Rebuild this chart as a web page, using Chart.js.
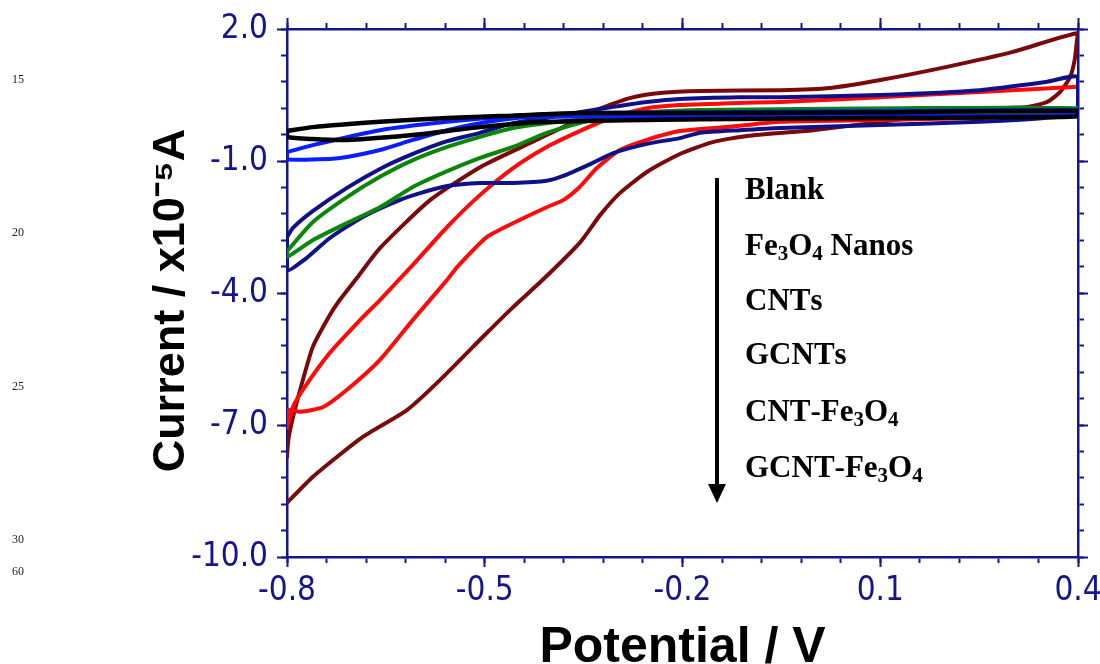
<!DOCTYPE html>
<html><head><meta charset="utf-8">
<script src="https://cdn.jsdelivr.net/npm/chart.js@4.4.1/dist/chart.umd.min.js"></script>
<style>html,body{margin:0;padding:0;background:#fff}canvas{display:block}</style>
</head><body>
<canvas id="c" width="1100" height="664"></canvas>
<script>
// ---- data (potential V, current x1e-5 A) ----
const seriesNames = ['Blank','Fe₃O₄ Nanos','CNTs','GCNTs','CNT-Fe₃O₄','GCNT-Fe₃O₄'];
const lineNumbers = ['15','20','25','30','60'];
const xTickValues = [-0.8,-0.5,-0.2,0.1,0.4];
const yTickValues = [2.0,-1.0,-4.0,-7.0,-10.0];

const blankV = [-0.8,-0.761,-0.659,-0.557,-0.477,-0.356,-0.173,0.13,0.4, 0.4,0.357,0.13,-0.173,-0.406,-0.507,-0.609,-0.709,-0.761,-0.8,-0.8];
const blankI = [-0.32,-0.23,-0.11,-0.02,0.02,0.09,0.09,0.11,0.14, 0.02,0.0,-0.02,-0.05,-0.11,-0.23,-0.41,-0.52,-0.50,-0.45,-0.32];

const feV = [-0.8,-0.761,-0.659,-0.557,-0.457,-0.356,-0.173,0.13,0.4, 0.4,0.13,-0.173,-0.431,-0.507,-0.557,-0.609,-0.659,-0.709,-0.735,-0.8,-0.8];
const feI = [-0.80,-0.64,-0.30,-0.11,0.02,0.09,0.11,0.14,0.16, 0.05,0.02,0.02,0.0,-0.14,-0.30,-0.52,-0.75,-0.91,-0.955,-0.96,-0.80];

const cntV = [-0.8,-0.761,-0.709,-0.659,-0.609,-0.557,-0.507,-0.457,-0.406,-0.356,-0.173,0.13,0.4, 0.4,0.13,-0.173,-0.254,-0.305,-0.356,-0.406,-0.457,-0.507,-0.557,-0.609,-0.659,-0.709,-0.761,-0.8,-0.8];
const cntI = [-3.05,-2.39,-1.82,-1.36,-0.98,-0.68,-0.45,-0.25,-0.14,-0.07,0.02,0.07,0.09, 0.2,0.2,0.16,0.11,0.05,-0.14,-0.36,-0.68,-0.93,-1.23,-1.59,-2.05,-2.41,-2.80,-3.18,-3.05];

const gcntV = [-0.8,-0.791,-0.761,-0.709,-0.659,-0.609,-0.557,-0.507,-0.457,-0.406,-0.356,-0.305,-0.254,-0.204,-0.113,-0.052,0.1,0.251,0.353,0.4, 0.4,0.353,0.251,0.1,-0.052,-0.113,-0.173,-0.204,-0.254,-0.305,-0.34,-0.381,-0.406,-0.457,-0.507,-0.557,-0.598,-0.633,-0.685,-0.735,-0.770,-0.8,-0.8];
const gcntI = [-2.73,-2.52,-2.14,-1.61,-1.18,-0.84,-0.55,-0.36,-0.14,-0.02,0.11,0.23,0.34,0.41,0.45,0.45,0.5,0.61,0.8,0.91, 0.11,-0.02,-0.11,-0.18,-0.25,-0.30,-0.36,-0.48,-0.61,-0.82,-1.07,-1.34,-1.45,-1.5,-1.5,-1.57,-1.73,-1.91,-2.27,-2.75,-3.2,-3.48,-2.73];

const cntFeV = [-0.8,-0.791,-0.776,-0.735,-0.685,-0.659,-0.609,-0.557,-0.507,-0.457,-0.406,-0.356,-0.305,-0.254,-0.204,-0.113,-0.052,0.1,0.251,0.392,0.4, 0.4,0.251,0.1,-0.052,-0.113,-0.204,-0.254,-0.295,-0.33,-0.356,-0.381,-0.406,-0.447,-0.497,-0.542,-0.557,-0.609,-0.659,-0.709,-0.745,-0.78,-0.8,-0.8];
const cntFeI = [-7.07,-6.59,-6.2,-5.36,-4.55,-4.16,-3.36,-2.5,-1.77,-1.16,-0.68,-0.32,0.0,0.2,0.27,0.32,0.34,0.45,0.57,0.68,0.68, 0.09,-0.02,-0.07,-0.11,-0.2,-0.32,-0.52,-0.75,-1.16,-1.59,-1.89,-2.05,-2.34,-2.73,-3.41,-3.70,-4.61,-5.52,-6.2,-6.59,-6.7,-6.66,-7.07];

const gcntFeV = [-0.8,-0.761,-0.685,-0.618,-0.568,-0.497,-0.457,-0.412,-0.356,-0.325,-0.295,-0.254,-0.204,-0.154,-0.102,-0.002,0.15,0.277,0.323,0.353,0.373,0.388,0.395,0.398,0.4, 0.301,0.201,0.1,0.024,-0.052,-0.173,-0.23,-0.28,-0.33,-0.381,-0.431,-0.507,-0.583,-0.659,-0.694,-0.72,-0.735,-0.761,-0.78,-0.792,-0.798,-0.8];
const gcntFeI = [-8.77,-8.18,-7.27,-6.66,-5.98,-4.91,-4.32,-3.70,-2.86,-2.23,-1.73,-1.25,-0.84,-0.57,-0.43,-0.30,-0.02,0.2,0.23,0.34,0.57,0.91,1.30,1.68,1.91, 1.48,1.14,0.84,0.66,0.61,0.59,0.55,0.43,0.16,-0.23,-0.59,-1.14,-1.89,-2.98,-3.66,-4.16,-4.5,-5.23,-6.2,-6.89,-7.34,-7.73];

// ---- build ----
const pts = (v, i) => v.map((x, k) => ({x: x, y: i[k]}));
const navy = '#15158c';
const colors = ['#000000','#0a1eff','#0a870a','#101088','#ff0a0a','#7a0a0a'];
const seriesData = [pts(blankV,blankI), pts(feV,feI), pts(cntV,cntI), pts(gcntV,gcntI), pts(cntFeV,cntFeI), pts(gcntFeV,gcntFeI)];

const near = (v, list) => list.some(t => Math.abs(v - t) < 1e-6);
const tickFont = {family:'"Liberation Sans Narrow","Arial Narrow","DejaVu Sans Condensed",sans-serif', size:33, lineHeight:1};
const titleFamily = '"Liberation Sans",Arial,sans-serif';

function minorAxis(axis, position, min, max, step, len, extra) {
  return Object.assign({
    type:'linear', axis, position, min, max,
    ticks:{display:false, stepSize:step, autoSkip:false},
    grid:{drawOnChartArea:false, drawTicks:true, tickLength:len, tickWidth:2, tickColor:navy},
    border:{display:false}
  }, extra || {});
}

const annot = {
  id:'annot',
  afterDraw(chart) {
    const ctx = chart.ctx;
    ctx.save();
    // arrow
    ctx.strokeStyle = '#000'; ctx.fillStyle = '#000'; ctx.lineWidth = 4;
    ctx.beginPath(); ctx.moveTo(717,178); ctx.lineTo(717,488); ctx.stroke();
    ctx.beginPath(); ctx.moveTo(708,484); ctx.lineTo(726,484); ctx.lineTo(717,503); ctx.closePath(); ctx.fill();
    // list of samples
    const bases = [199,255,310,364,421,477];
    const subMap = {'₃':'3','₄':'4'};
    ctx.textBaseline = 'alphabetic'; ctx.textAlign = 'left';
    seriesNames.forEach((name, k) => {
      let x = 745;
      for (const ch of name) {
        const sub = subMap[ch];
        ctx.font = sub ? 'bold 21px "Liberation Serif","Times New Roman",serif' : 'bold 31px "Liberation Serif","Times New Roman",serif';
        const t = sub || ch;
        ctx.fillText(t, x, bases[k] + (sub ? 5 : 0));
        x += ctx.measureText(t).width;
      }
    });
    // manuscript line numbers
    ctx.font = '12px "Liberation Serif","Times New Roman",serif';
    ctx.fillStyle = '#222'; ctx.textAlign = 'center'; ctx.textBaseline = 'middle';
    const ly = [80,233,387,540,572];
    lineNumbers.forEach((t, k) => ctx.fillText(t, 18, ly[k]));
    ctx.restore();
  }
};

new Chart(document.getElementById('c'), {
  type:'scatter',
  data:{
    datasets: seriesData.map((d, k) => ({
      label: seriesNames[k], data: d, showLine:true, borderColor: colors[k], backgroundColor: colors[k],
      borderWidth: k === 0 ? 4.5 : 4, pointRadius:0, pointHoverRadius:0, tension:0.2, fill:false,
      borderJoinStyle:'round', borderCapStyle:'round'
    }))
  },
  options:{
    responsive:false, animation:false, devicePixelRatio:1,
    layout:{padding:{left:149, right:16, top:23, bottom:0}},
    plugins:{legend:{display:false}, tooltip:{enabled:false}},
    scales:{
      x:{type:'linear', position:'bottom', min:-0.8, max:0.4,
        afterFit: s => { s.height = 107; s.paddingLeft = 0; s.paddingRight = 0; },
        ticks:{stepSize:0.06, autoSkip:false, maxRotation:0, minRotation:0, padding:12, color:navy, font:tickFont,
          callback: v => near(v, xTickValues) ? Number(v).toFixed(1) : ''},
        grid:{drawOnChartArea:false, drawTicks:true, tickLength:6, tickWidth:2, tickColor:navy},
        border:{display:true, color:navy, width:2.5},
        title:{display:true, text:'Potential / V', color:'#000',
          font:{family:titleFamily, weight:'bold', size:50, lineHeight:1}, padding:{top:12, bottom:-9}}
      },
      y:{type:'linear', position:'left', min:-10, max:2,
        afterFit: s => { s.width = 138; s.paddingTop = 0; s.paddingBottom = 0; },
        ticks:{stepSize:0.6, autoSkip:false, padding:13, color:navy, font:tickFont,
          callback: v => near(v, yTickValues) ? Number(v).toFixed(1) : ''},
        grid:{drawOnChartArea:false, drawTicks:true, tickLength:6, tickWidth:2, tickColor:navy},
        border:{display:true, color:navy, width:2.5},
        title:{display:true, text:'Current / x10⁻⁵A\u2004', color:'#000',
          font:{family:titleFamily, weight:'bold', size:45, lineHeight:1}, padding:{top:0, bottom:4}}
      },
      xTop: minorAxis('x','top',-0.8,0.4,0.06,6,{border:{display:true,color:navy,width:2.5}}),
      yRight: minorAxis('y','right',-10,2,0.6,6,{border:{display:true,color:navy,width:2.5}}),
      xMajB: minorAxis('x',{y:-10},-0.8,0.4,0.3,10),
      xMajT: minorAxis('x',{y:2},-0.8,0.4,0.3,-11),
      yMajL: minorAxis('y',{x:-0.8},-10,2,3,10),
      yMajR: minorAxis('y',{x:0.4},-10,2,3,-10)
    }
  },
  plugins:[annot]
});
</script>
</body></html>
